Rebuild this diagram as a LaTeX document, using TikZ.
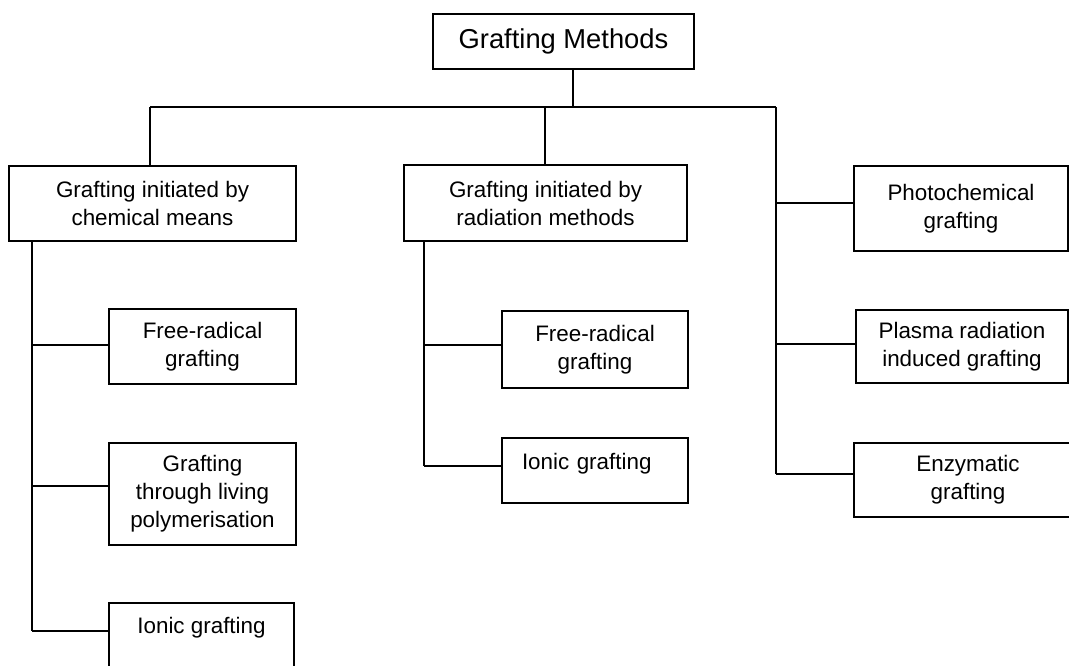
\documentclass[tikz,border=0pt]{standalone}
\usepackage{fontspec}
\setmainfont{Liberation Sans}
\begin{document}
\begin{tikzpicture}[x=0.75pt,y=-0.75pt,
  box/.style={draw, line width=1.5pt, inner sep=0pt, align=center,
    font=\fontsize{16.8}{21}\selectfont},
  conn/.style={line width=1.5pt}]
\useasboundingbox (0,0) rectangle (1069,665);
% nodes
\node[box, minimum width=195.75pt, minimum height=41.25pt, font=\fontsize{20.5}{24}\selectfont] (top) at (563.5,41.5) {Grafting Methods};
\node[box, minimum width=215.25pt, minimum height=56.25pt] (chem) at (152.5,203.5) {Grafting initiated by\\chemical means};
\node[box, minimum width=212.25pt, minimum height=57pt] (rad) at (545.5,203) {Grafting initiated by\\radiation methods};
\node[box, minimum width=160.5pt, minimum height=63.75pt] (photo) at (961,208.5) {Photochemical\\grafting};
\node[box, minimum width=159pt, minimum height=54.75pt] (plasma) at (962,346.5) {Plasma radiation\\induced grafting};
\node[box, minimum width=171pt, minimum height=55.5pt] (enzy) at (968,480) {Enzymatic\\grafting};
\node[box, minimum width=140.25pt, minimum height=56.25pt] (cfree) at (202.5,346.5) {Free-radical\\grafting};
\node[box, minimum width=140.25pt, minimum height=76.5pt] (living) at (202.5,494) {Grafting\\through living\\polymerisation};
\node[box, minimum width=138.75pt, text height=22.5pt, text depth=43.5pt, anchor=north] (cion) at (201.5,602) {Ionic grafting};
\node[box, minimum width=139.5pt, minimum height=57.75pt] (rfree) at (595,349.5) {Free-radical\\grafting};
\node[box, text width=109.5pt, inner xsep=15pt, align=left, text height=23.25pt, text depth=25.5pt, anchor=north] (rion) at (595,437) {Ionic grafting};
% junction coordinates
\coordinate (jt) at (573,107);
\coordinate (jl) at (150,107);
\coordinate (jm) at (545,107);
\coordinate (jr) at (776,107);
\coordinate (lv) at (32,241);
\coordinate (mv) at (424,241);
% tree trunk
\draw[conn] (jt |- top.south) -- (jt);
\draw[conn] (jl) -- (jr);
\draw[conn] (jl) -- (jl |- chem.north);
\draw[conn] (jm) -- (jm |- rad.north);
% right column
\draw[conn] (jr) -- (776,474);
\draw[conn] (776,203) -- (photo.west |- 0,203);
\draw[conn] (776,344) -- (plasma.west |- 0,344);
\draw[conn] (776,474) -- (enzy.west |- 0,474);
% left column
\draw[conn] (lv) -- (32,631);
\draw[conn] (32,345) -- (cfree.west |- 0,345);
\draw[conn] (32,486) -- (living.west |- 0,486);
\draw[conn] (32,631) -- (cion.west |- 0,631);
% middle column
\draw[conn] (mv) -- (424,466);
\draw[conn] (424,345) -- (rfree.west |- 0,345);
\draw[conn] (424,466) -- (rion.west |- 0,466);
\end{tikzpicture}
\end{document}
